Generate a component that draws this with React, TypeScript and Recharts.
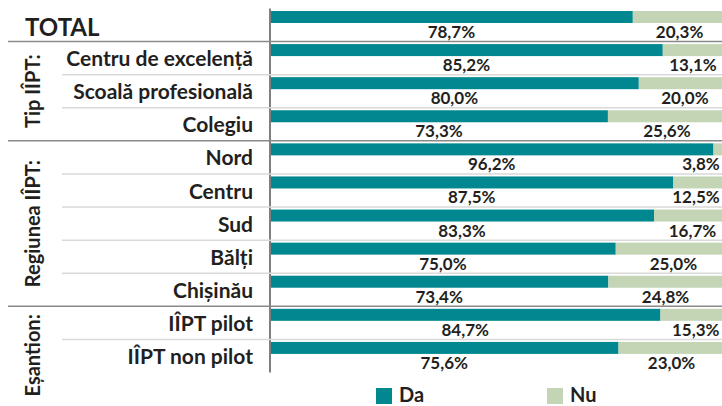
import { BarChart, Bar, XAxis, YAxis, LabelList, Legend } from 'recharts';

const categories = [
  'TOTAL',
  'Centru de excelență',
  'Scoală profesională',
  'Colegiu',
  'Nord',
  'Centru',
  'Sud',
  'Bălți',
  'Chișinău',
  'IÎPT pilot',
  'IÎPT non pilot',
];
const daValues = [78.7, 85.2, 80.0, 73.3, 96.2, 87.5, 83.3, 75.0, 73.4, 84.7, 75.6];
const nuValues = [20.3, 13.1, 20.0, 25.6, 3.8, 12.5, 16.7, 25.0, 24.8, 15.3, 23.0];

const groupLabels = ['Tip IÎPT:', 'Regiunea IÎPT:', 'Eșantion:'];
const groupStarts = [1, 4, 9];
const groupEnds = [3, 8, 10];

const series = [
  { key: 'da', name: 'Da', color: '#00878f' },
  { key: 'nu', name: 'Nu', color: '#c3d5b5' },
];

const data = categories.map((name, i) => ({ name, da: daValues[i], nu: nuValues[i] }));

// layout
const W = 722;
const H = 406;
const CHART_W = 731; // 100% runs past the right edge, like in the print
const AXIS_W = 270;
const M_TOP = 8.5;
const M_BOTTOM = 33.5;
const BAND = (H - M_TOP - M_BOTTOM) / categories.length;
const BAR_TOP = 2.5;
const BAR_H = 12;
const FONT = 'Lato, "Open Sans", sans-serif';
const INK = '#231f20';

const fmt = (v: number) => v.toFixed(1).replace('.', ',') + '%';

const InnerBar = (props: any) => {
  const { x, y, width, fill } = props;
  if (!width || width <= 0) return null;
  return <rect x={x} y={y + BAR_TOP} width={width} height={BAR_H} fill={fill} />;
};

const makeLabel = (clampRight: boolean) => (props: any) => {
  const { x, y, width, value } = props;
  const text = fmt(Number(value));
  let cx = x + width / 2;
  if (clampRight) {
    const half = text.length * 5;
    cx = Math.min(cx, W - 1 - half);
  }
  return (
    <text
      x={cx}
      y={y + BAR_TOP + BAR_H + 15}
      textAnchor="middle"
      fontFamily={FONT}
      fontWeight={700}
      fontSize={17}
      fill={INK}
    >
      {text}
    </text>
  );
};

const CategoryTick = (props: any) => {
  const { y, payload, index } = props;
  const half = payload && payload.offset ? payload.offset : BAND / 2;
  const top = y - half;
  const gi = groupStarts.indexOf(index);
  const isTotal = index === 0;
  let group = null;
  if (gi >= 0) {
    const rows = groupEnds[gi] - groupStarts[gi] + 1;
    const label = groupLabels[gi];
    const estHalf = label.length * 5;
    const cy = Math.max(top + (rows * BAND) / 2, top + estHalf + 4);
    group = (
      <text
        x={40}
        y={cy}
        transform={`rotate(-90, 40, ${cy})`}
        textAnchor="middle"
        fontFamily={FONT}
        fontWeight={700}
        fontSize={20}
        fill={INK}
      >
        {label}
      </text>
    );
  }
  return (
    <g>
      {index > 0 && (
        <line
          x1={gi >= 0 ? 8 : 62}
          x2={CHART_W}
          y1={top}
          y2={top}
          stroke={gi >= 0 ? '#8a8a8a' : '#d9d9d9'}
          strokeWidth={1.5}
        />
      )}
      {group}
      {isTotal ? (
        <text x={25} y={y + 11} fontFamily={FONT} fontWeight={700} fontSize={24} fill={INK}>
          {payload.value}
        </text>
      ) : (
        <text
          x={253}
          y={y + 8}
          textAnchor="end"
          fontFamily={FONT}
          fontWeight={700}
          fontSize={21}
          fill={INK}
        >
          {payload.value}
        </text>
      )}
    </g>
  );
};

const LegendContent = () => (
  <div style={{ display: 'flex', paddingLeft: 376, fontFamily: FONT, fontWeight: 700, fontSize: 20, color: INK }}>
    {series.map((s) => (
      <div key={s.key} style={{ display: 'flex', alignItems: 'flex-start', width: 171 }}>
        <div style={{ width: 16, height: 16, background: s.color, marginTop: 4 }} />
        <span style={{ marginLeft: 7, lineHeight: '20px' }}>{s.name}</span>
      </div>
    ))}
  </div>
);

export default function App() {
  return (
    <div
      style={{
        position: 'absolute',
        left: 0,
        top: 0,
        width: W,
        height: H,
        overflow: 'hidden',
        background: '#fff',
      }}
    >
      <BarChart
        width={CHART_W}
        height={H}
        data={data}
        layout="vertical"
        barCategoryGap={0}
        margin={{ top: M_TOP, right: 0, bottom: M_BOTTOM, left: 0 }}
      >
        <XAxis type="number" domain={[0, 100]} hide />
        <YAxis
          type="category"
          dataKey="name"
          width={AXIS_W}
          interval={0}
          tickLine={false}
          axisLine={{ stroke: '#7f7f7f', strokeWidth: 2 }}
          tick={<CategoryTick />}
        />
        <Legend
          layout="horizontal"
          verticalAlign="middle"
          align="center"
          content={<LegendContent />}
          wrapperStyle={{ top: 384, left: 0, width: W, height: 22 }}
        />
        {series.map((s) => (
          <Bar
            key={s.key}
            dataKey={s.key}
            name={s.name}
            stackId="a"
            fill={s.color}
            shape={<InnerBar />}
            isAnimationActive={false}
          >
            <LabelList dataKey={s.key} content={makeLabel(s.key === 'nu')} />
          </Bar>
        ))}
      </BarChart>
    </div>
  );
}
